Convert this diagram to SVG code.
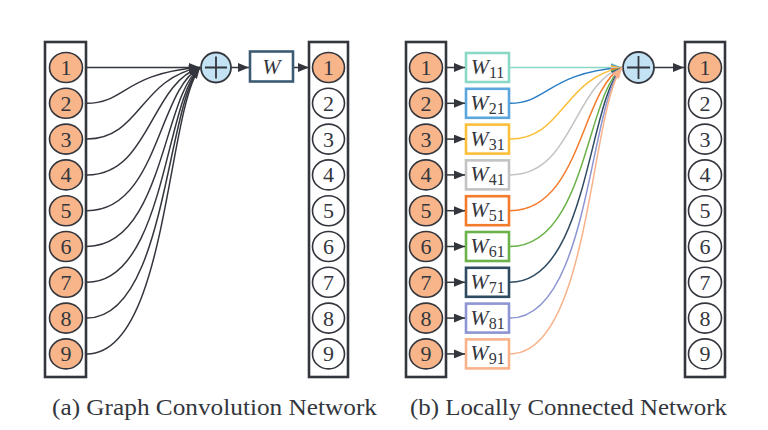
<svg xmlns="http://www.w3.org/2000/svg" width="768" height="430" viewBox="0 0 768 430">
<style>
.frame{fill:#fff;stroke:#33363d;stroke-width:2.6}
.on{fill:#f8b58a;stroke:#33363d;stroke-width:1.6}
.off{fill:#fff;stroke:#33363d;stroke-width:1.6}
.num{font-family:'Liberation Serif','Times New Roman',Times,serif;font-size:22px;fill:#33363d;text-anchor:middle}
.sum{fill:#c3e2f3;stroke:#33363d;stroke-width:1.8}
.plus{stroke:#33363d;stroke-width:1.8}
.w{font-family:'Liberation Serif','Times New Roman',Times,serif;font-size:22px;font-style:italic;fill:#33363d;text-anchor:middle}
.sub{font-style:normal;font-size:16px}
.wbox{fill:#fff;stroke-width:2.6}
.ln{fill:none;stroke-width:1.5}
.cap{font-family:'Liberation Serif','Times New Roman',Times,serif;font-size:24px;fill:#33363d}
</style>
<defs>
<marker id="ak" markerUnits="userSpaceOnUse" markerWidth="11" markerHeight="9" refX="11" refY="4.5" orient="auto"><path d="M0,0 L11,4.5 L0,9 z" fill="#33363d"/></marker>
<marker id="a1" markerUnits="userSpaceOnUse" markerWidth="11" markerHeight="9" refX="11" refY="4.5" orient="auto"><path d="M0,0 L11,4.5 L0,9 z" fill="#8ad8c6"/></marker>
<marker id="a2" markerUnits="userSpaceOnUse" markerWidth="11" markerHeight="9" refX="11" refY="4.5" orient="auto"><path d="M0,0 L11,4.5 L0,9 z" fill="#3d8fd0"/></marker>
<marker id="a3" markerUnits="userSpaceOnUse" markerWidth="11" markerHeight="9" refX="11" refY="4.5" orient="auto"><path d="M0,0 L11,4.5 L0,9 z" fill="#fbbf3a"/></marker>
<marker id="a4" markerUnits="userSpaceOnUse" markerWidth="11" markerHeight="9" refX="11" refY="4.5" orient="auto"><path d="M0,0 L11,4.5 L0,9 z" fill="#c3c3c3"/></marker>
<marker id="a5" markerUnits="userSpaceOnUse" markerWidth="11" markerHeight="9" refX="11" refY="4.5" orient="auto"><path d="M0,0 L11,4.5 L0,9 z" fill="#f47a2c"/></marker>
<marker id="a6" markerUnits="userSpaceOnUse" markerWidth="11" markerHeight="9" refX="11" refY="4.5" orient="auto"><path d="M0,0 L11,4.5 L0,9 z" fill="#6bb24a"/></marker>
<marker id="a7" markerUnits="userSpaceOnUse" markerWidth="11" markerHeight="9" refX="11" refY="4.5" orient="auto"><path d="M0,0 L11,4.5 L0,9 z" fill="#2f4b62"/></marker>
<marker id="a8" markerUnits="userSpaceOnUse" markerWidth="11" markerHeight="9" refX="11" refY="4.5" orient="auto"><path d="M0,0 L11,4.5 L0,9 z" fill="#8d95d2"/></marker>
<marker id="a9" markerUnits="userSpaceOnUse" markerWidth="11" markerHeight="9" refX="11" refY="4.5" orient="auto"><path d="M0,0 L11,4.5 L0,9 z" fill="#f9b28a"/></marker>
</defs>

<!-- Panel (a) -->
<g id="a-input">
<rect class="frame" x="45" y="42" width="41" height="335"/>
<ellipse class="on" cx="66" cy="67.5" rx="16.5" ry="15"/><text class="num" x="66" y="75">1</text>
<ellipse class="on" cx="66" cy="103.3" rx="16.5" ry="15"/><text class="num" x="66" y="110.8">2</text>
<ellipse class="on" cx="66" cy="139.1" rx="16.5" ry="15"/><text class="num" x="66" y="146.6">3</text>
<ellipse class="on" cx="66" cy="174.9" rx="16.5" ry="15"/><text class="num" x="66" y="182.4">4</text>
<ellipse class="on" cx="66" cy="210.7" rx="16.5" ry="15"/><text class="num" x="66" y="218.2">5</text>
<ellipse class="on" cx="66" cy="246.5" rx="16.5" ry="15"/><text class="num" x="66" y="254">6</text>
<ellipse class="on" cx="66" cy="282.3" rx="16.5" ry="15"/><text class="num" x="66" y="289.8">7</text>
<ellipse class="on" cx="66" cy="318.1" rx="16.5" ry="15"/><text class="num" x="66" y="325.6">8</text>
<ellipse class="on" cx="66" cy="353.9" rx="16.5" ry="15"/><text class="num" x="66" y="361.4">9</text>
</g>
<g id="a-sum">
<circle class="sum" cx="216" cy="67.5" r="15"/>
<path class="plus" d="M205,67.5 H227 M216,56.5 V78.5"/>
</g>
<g id="a-w">
<rect x="250" y="51.5" width="43" height="30" fill="#fff" stroke="#3d5a73" stroke-width="2.6"/>
<text class="w" x="271.5" y="74">W</text>
</g>
<g id="a-output">
<rect class="frame" x="309" y="42" width="39" height="335"/>
<ellipse class="on" cx="328.5" cy="67.5" rx="16" ry="15"/><text class="num" x="328.5" y="75">1</text>
<ellipse class="off" cx="328.5" cy="103.3" rx="16" ry="15"/><text class="num" x="328.5" y="110.8">2</text>
<ellipse class="off" cx="328.5" cy="139.1" rx="16" ry="15"/><text class="num" x="328.5" y="146.6">3</text>
<ellipse class="off" cx="328.5" cy="174.9" rx="16" ry="15"/><text class="num" x="328.5" y="182.4">4</text>
<ellipse class="off" cx="328.5" cy="210.7" rx="16" ry="15"/><text class="num" x="328.5" y="218.2">5</text>
<ellipse class="off" cx="328.5" cy="246.5" rx="16" ry="15"/><text class="num" x="328.5" y="254">6</text>
<ellipse class="off" cx="328.5" cy="282.3" rx="16" ry="15"/><text class="num" x="328.5" y="289.8">7</text>
<ellipse class="off" cx="328.5" cy="318.1" rx="16" ry="15"/><text class="num" x="328.5" y="325.6">8</text>
<ellipse class="off" cx="328.5" cy="353.9" rx="16" ry="15"/><text class="num" x="328.5" y="361.4">9</text>
</g>
<g id="a-connectors" class="ln" stroke="#33363d" marker-end="url(#ak)">
<path d="M87,67.5 L200,67.5"/>
<path d="M87,103.3 C125,103.3 125,72.9 200,67.5"/>
<path d="M87,139.1 C140,139.1 140,78.2 200,67.5"/>
<path d="M87,174.9 C150,174.9 150,83.6 200,67.5"/>
<path d="M87,210.7 C158,210.7 158,89 200,67.5"/>
<path d="M87,246.5 C163,246.5 163,94.4 200,67.5"/>
<path d="M87,282.3 C165,282.3 165,99.8 200,67.5"/>
<path d="M87,318.1 C166,318.1 166,105.2 200,67.5"/>
<path d="M87,353.9 C167,353.9 167,110.4 200,67.5"/>
<path d="M231,67.5 L249,67.5"/>
<path d="M294,67.5 L309,67.5"/>
</g>

<!-- Panel (b) -->
<g id="b-input">
<rect class="frame" x="406" y="42" width="40" height="335"/>
<ellipse class="on" cx="426" cy="67.5" rx="16.5" ry="15"/><text class="num" x="426" y="75">1</text>
<ellipse class="on" cx="426" cy="103.3" rx="16.5" ry="15"/><text class="num" x="426" y="110.8">2</text>
<ellipse class="on" cx="426" cy="139.1" rx="16.5" ry="15"/><text class="num" x="426" y="146.6">3</text>
<ellipse class="on" cx="426" cy="174.9" rx="16.5" ry="15"/><text class="num" x="426" y="182.4">4</text>
<ellipse class="on" cx="426" cy="210.7" rx="16.5" ry="15"/><text class="num" x="426" y="218.2">5</text>
<ellipse class="on" cx="426" cy="246.5" rx="16.5" ry="15"/><text class="num" x="426" y="254">6</text>
<ellipse class="on" cx="426" cy="282.3" rx="16.5" ry="15"/><text class="num" x="426" y="289.8">7</text>
<ellipse class="on" cx="426" cy="318.1" rx="16.5" ry="15"/><text class="num" x="426" y="325.6">8</text>
<ellipse class="on" cx="426" cy="353.9" rx="16.5" ry="15"/><text class="num" x="426" y="361.4">9</text>
</g>
<g id="b-w11"><rect class="wbox" stroke="#8ad8c6" x="466" y="53" width="43" height="29"/><text class="w" x="487.5" y="74">W<tspan class="sub" dy="4">11</tspan></text></g>
<g id="b-w21"><rect class="wbox" stroke="#5ba6dc" x="466" y="88.8" width="43" height="29"/><text class="w" x="487.5" y="109.8">W<tspan class="sub" dy="4">21</tspan></text></g>
<g id="b-w31"><rect class="wbox" stroke="#fbbf3a" x="466" y="124.6" width="43" height="29"/><text class="w" x="487.5" y="145.6">W<tspan class="sub" dy="4">31</tspan></text></g>
<g id="b-w41"><rect class="wbox" stroke="#c3c3c3" x="466" y="160.4" width="43" height="29"/><text class="w" x="487.5" y="181.4">W<tspan class="sub" dy="4">41</tspan></text></g>
<g id="b-w51"><rect class="wbox" stroke="#f47a2c" x="466" y="196.2" width="43" height="29"/><text class="w" x="487.5" y="217.2">W<tspan class="sub" dy="4">51</tspan></text></g>
<g id="b-w61"><rect class="wbox" stroke="#6bb24a" x="466" y="232" width="43" height="29"/><text class="w" x="487.5" y="253">W<tspan class="sub" dy="4">61</tspan></text></g>
<g id="b-w71"><rect class="wbox" stroke="#2f4b62" x="466" y="267.8" width="43" height="29"/><text class="w" x="487.5" y="288.8">W<tspan class="sub" dy="4">71</tspan></text></g>
<g id="b-w81"><rect class="wbox" stroke="#8d95d2" x="466" y="303.6" width="43" height="29"/><text class="w" x="487.5" y="324.6">W<tspan class="sub" dy="4">81</tspan></text></g>
<g id="b-w91"><rect class="wbox" stroke="#f9b28a" x="466" y="339.4" width="43" height="29"/><text class="w" x="487.5" y="360.4">W<tspan class="sub" dy="4">91</tspan></text></g>
<g id="b-sum">
<circle class="sum" cx="638.5" cy="67.5" r="15.5"/>
<path class="plus" d="M627,67.5 H650 M638.5,56 V79"/>
</g>
<g id="b-output">
<rect class="frame" x="685" y="42" width="40" height="335"/>
<ellipse class="on" cx="705" cy="67.5" rx="16.5" ry="15"/><text class="num" x="705" y="75">1</text>
<ellipse class="off" cx="705" cy="103.3" rx="16.5" ry="15"/><text class="num" x="705" y="110.8">2</text>
<ellipse class="off" cx="705" cy="139.1" rx="16.5" ry="15"/><text class="num" x="705" y="146.6">3</text>
<ellipse class="off" cx="705" cy="174.9" rx="16.5" ry="15"/><text class="num" x="705" y="182.4">4</text>
<ellipse class="off" cx="705" cy="210.7" rx="16.5" ry="15"/><text class="num" x="705" y="218.2">5</text>
<ellipse class="off" cx="705" cy="246.5" rx="16.5" ry="15"/><text class="num" x="705" y="254">6</text>
<ellipse class="off" cx="705" cy="282.3" rx="16.5" ry="15"/><text class="num" x="705" y="289.8">7</text>
<ellipse class="off" cx="705" cy="318.1" rx="16.5" ry="15"/><text class="num" x="705" y="325.6">8</text>
<ellipse class="off" cx="705" cy="353.9" rx="16.5" ry="15"/><text class="num" x="705" y="361.4">9</text>
</g>
<g id="b-connectors" class="ln">
<g stroke="#33363d" marker-end="url(#ak)">
<path d="M447,67.5 L465,67.5"/>
<path d="M447,103.3 L465,103.3"/>
<path d="M447,139.1 L465,139.1"/>
<path d="M447,174.9 L465,174.9"/>
<path d="M447,210.7 L465,210.7"/>
<path d="M447,246.5 L465,246.5"/>
<path d="M447,282.3 L465,282.3"/>
<path d="M447,318.1 L465,318.1"/>
<path d="M447,353.9 L465,353.9"/>
<path d="M654,67.5 L684,67.5"/>
</g>
<path stroke="#8ad8c6" marker-end="url(#a1)" d="M510,67.5 L622,67.5"/>
<path stroke="#2a7dc4" marker-end="url(#a2)" d="M510,103.3 C548,103.3 548,72.9 622,67.5"/>
<path stroke="#fbbf3a" marker-end="url(#a3)" d="M510,139.1 C563,139.1 563,78.2 622,67.5"/>
<path stroke="#c3c3c3" marker-end="url(#a4)" d="M510,174.9 C573,174.9 573,83.6 622,67.5"/>
<path stroke="#f47a2c" marker-end="url(#a5)" d="M510,210.7 C581,210.7 581,89 622,67.5"/>
<path stroke="#6bb24a" marker-end="url(#a6)" d="M510,246.5 C586,246.5 586,94.4 622,67.5"/>
<path stroke="#2f4b62" marker-end="url(#a7)" d="M510,282.3 C588,282.3 588,99.8 622,67.5"/>
<path stroke="#8d95d2" marker-end="url(#a8)" d="M510,318.1 C589,318.1 589,105.2 622,67.5"/>
<path stroke="#f9b28a" marker-end="url(#a9)" d="M510,353.9 C590,353.9 590,110.4 622,67.5"/>
</g>

<g id="captions">
<text class="cap" x="52" y="415" textLength="325" lengthAdjust="spacingAndGlyphs">(a) Graph Convolution Network</text>
<text class="cap" x="410" y="415" textLength="317" lengthAdjust="spacingAndGlyphs">(b) Locally Connected Network</text>
</g>
</svg>
